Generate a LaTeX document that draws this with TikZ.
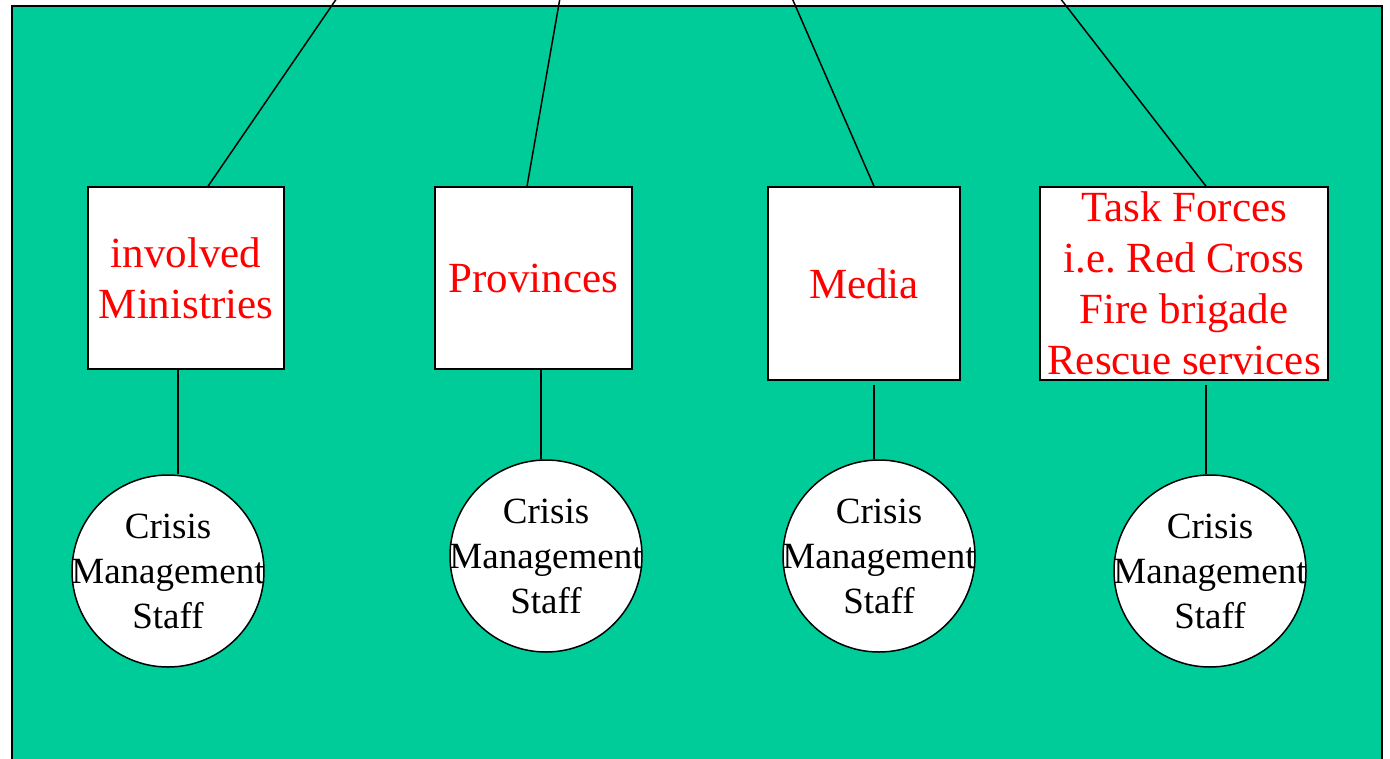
\documentclass[tikz,border=0pt]{standalone}
\usepackage{fontspec}
\setmainfont{Liberation Serif}
\frenchspacing
\definecolor{bggreen}{HTML}{00CC99}
\begin{document}
\begin{tikzpicture}[x=1pt,y=-1pt,
  box/.style={draw=black,line width=1.5pt,fill=white,rectangle,inner sep=0pt,align=center,
    text=red,font=\fontsize{43}{51}\selectfont},
  staff/.style={draw=black,line width=1.5pt,fill=white,circle,inner sep=0pt,minimum size=192pt,
    label={[align=center,inner sep=0pt,font=\fontsize{37}{45}\selectfont]center:Crisis\\Management\\Staff}},
  conn/.style={draw=black,line width=1.5pt}]
\useasboundingbox (0,0) rectangle (1390,758);
\fill[bggreen,draw=black,line width=1.5pt] (12,6) rectangle (1382,780);
% top anchors
\coordinate (t1) at (337,-2);
\coordinate (t2) at (560,-2);
\coordinate (t3) at (792,-2);
\coordinate (t4) at (1060,-2);
% boxes
\node[box,minimum width=196pt,minimum height=182pt] (b1) at (186,278) {involved\\Ministries};
\node[box,minimum width=197pt,minimum height=182pt] (b2) at (533.5,278) {Provinces};
\node[box,minimum width=192pt,minimum height=193pt] (b3) at (864,283.5) {Media};
\node[box,minimum width=288pt,minimum height=193pt] (b4) at (1184,283.5) {Task Forces\\i.e. Red Cross\\Fire brigade\\Rescue services};
% circles
\node[staff] (c1) at (168,571) {};
\node[staff] (c2) at (546,556) {};
\node[staff] (c3) at (879,556) {};
\node[staff] (c4) at (1210,571) {};
% connectors to top
\draw[conn] (t1) -- ([xshift=22pt]b1.north);
\draw[conn] (t2) -- ([xshift=-6.5pt]b2.north);
\draw[conn] (t3) -- ([xshift=10pt]b3.north);
\draw[conn] (t4) -- ([xshift=22pt]b4.north);
% connectors to circles
\draw[conn] ([xshift=-8pt]b1.south) -- ([xshift=-8pt]b1.south |- c1.north);
\draw[conn] ([xshift=7.5pt]b2.south) -- ([xshift=7.5pt]b2.south |- c2.north);
\draw[conn] ([xshift=10pt,yshift=-4pt]b3.south) -- ([xshift=10pt]b3.south |- c3.north);
\draw[conn] ([xshift=22pt,yshift=-4pt]b4.south) -- ([xshift=22pt]b4.south |- c4.north);
\end{tikzpicture}
\end{document}
